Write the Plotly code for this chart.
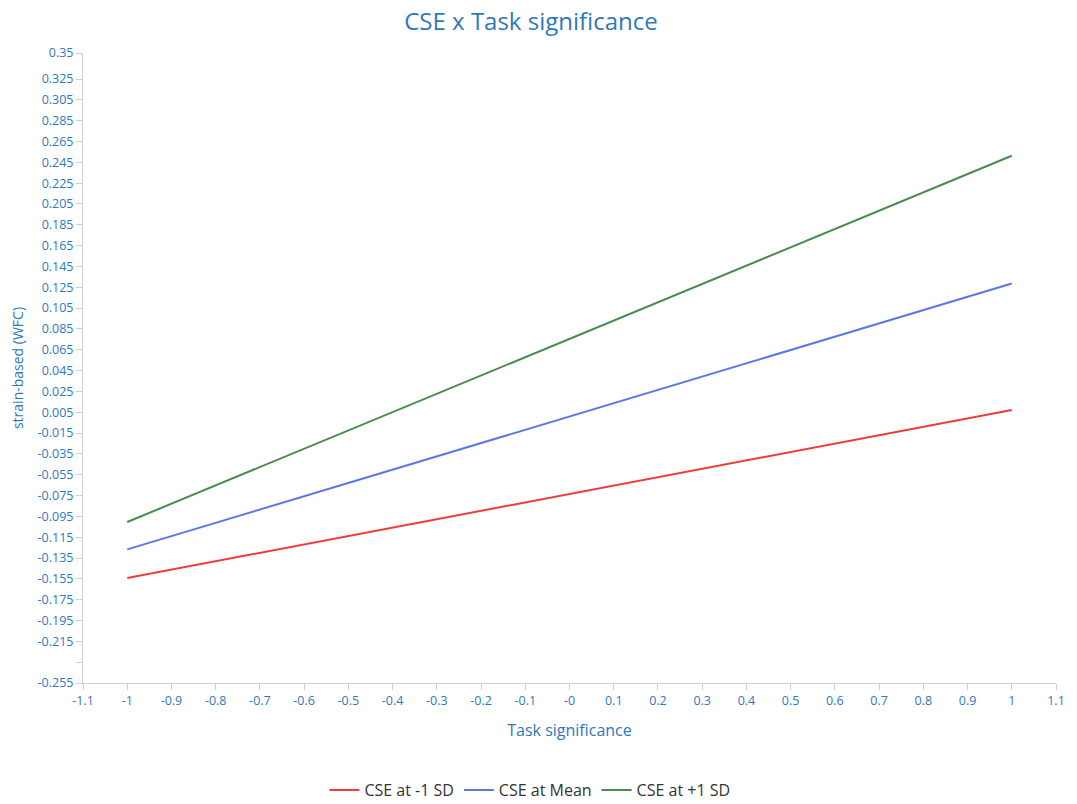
import plotly.graph_objects as go

# Simple-slope lines for the CSE x Task significance interaction
task_significance = [-1, 1]
cse_low = [-0.1542, 0.0072]    # CSE at -1 SD
cse_mean = [-0.1267, 0.1286]   # CSE at Mean
cse_high = [-0.1004, 0.2513]   # CSE at +1 SD

series_names = ["CSE at -1 SD", "CSE at Mean", "CSE at +1 SD"]
series_colors = ["#ee3b3b", "#5a78e6", "#4b8b4b"]

x_tickvals = [round(-1.1 + 0.1 * i, 1) for i in range(23)]
x_ticktext = ["-0" if v == 0 else f"{v:g}" for v in x_tickvals]

y_tickvals = [-0.255] + [round(-0.235 + 0.02 * i, 3) for i in range(29)] + [0.35]
y_ticktext = ["" if abs(v + 0.235) < 1e-9 else f"{v:g}" for v in y_tickvals]

label_color = "#2f78bd"
axis_color = "#cfcfcf"
font_family = "Open Sans, Noto Sans, sans-serif"

fig = go.Figure()
for name, color, ys in zip(series_names, series_colors, [cse_low, cse_mean, cse_high]):
    fig.add_trace(go.Scatter(
        x=task_significance, y=ys, mode="lines", name=name,
        line=dict(color=color, width=2),
    ))

fig.update_layout(
    width=1077, height=804,
    paper_bgcolor="white", plot_bgcolor="white",
    margin=dict(l=83, r=16, t=53, b=121),
    font=dict(family=font_family, color=label_color),
    title=dict(
        text="CSE x Task significance",
        x=0.493, xref="container", xanchor="center",
        y=1 - 22 / 804, yref="container", yanchor="middle",
        font=dict(size=24, color=label_color, family=font_family),
    ),
    showlegend=True,
    legend=dict(
        orientation="h",
        x=0.492, xref="container", xanchor="center",
        y=1 - 790 / 804, yref="container", yanchor="middle",
        font=dict(size=16, color="#333333", family=font_family),
        itemwidth=30,
    ),
    xaxis=dict(
        range=[-1.1, 1.1],
        tickmode="array", tickvals=x_tickvals, ticktext=x_ticktext,
        showgrid=False, zeroline=False,
        showline=True, linecolor=axis_color, linewidth=1,
        ticks="outside", ticklen=6, tickcolor=axis_color,
        tickfont=dict(size=12.5, color=label_color),
        title=dict(text="Task significance", font=dict(size=16, color=label_color), standoff=16),
    ),
    yaxis=dict(
        range=[-0.255, 0.35],
        tickmode="array", tickvals=y_tickvals, ticktext=y_ticktext,
        showgrid=False, zeroline=False,
        showline=True, linecolor=axis_color, linewidth=1,
        ticks="outside", ticklen=6, tickcolor=axis_color,
        tickfont=dict(size=12.5, color=label_color),
        title=dict(text="strain-based (WFC)", font=dict(size=14, color=label_color), standoff=10),
    ),
)

fig.write_html("out.html")
